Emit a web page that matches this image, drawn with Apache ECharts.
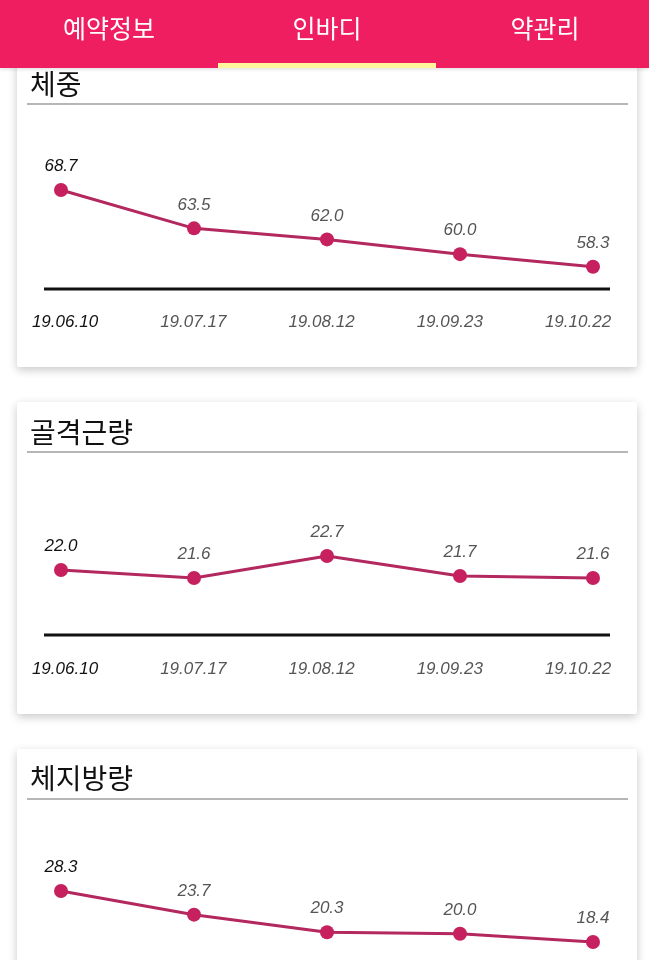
<!DOCTYPE html>
<html>
<head>
<meta charset="utf-8">
<script src="https://cdn.jsdelivr.net/npm/echarts@6/dist/echarts.min.js"></script>
<style>
html,body{margin:0;padding:0;background:#fff;}
#main{width:649px;height:960px;}
</style>
</head>
<body>
<div id="main"></div>
<script>
// ---- data ----
const categories = ['19.06.10', '19.07.17', '19.08.12', '19.09.23', '19.10.22'];
const weight = [68.7, 63.5, 62.0, 60.0, 58.3];
const muscle = [22.0, 21.6, 22.7, 21.7, 21.6];
const fat = [28.3, 23.7, 20.3, 20.0, 18.4];
const tabs = ['예약정보', '인바디', '약관리'];
const titles = ['체중', '골격근량', '체지방량'];

// ---- styles / layout ----
const KR = '"Noto Sans CJK KR", "Noto Sans", sans-serif';
const NUM = '"Liberation Sans", Arial, sans-serif';
const pink = '#ef1e61';
const lineColor = '#b3285e';
const dotColor = '#c6205f';

const cards = [
  {y: 10, h: 357, titleY: 84, sepY: 104, baseY: 289},
  {y: 402, h: 312, titleY: 432, sepY: 452, baseY: 635},
  {y: 749, h: 320, titleY: 778, sepY: 799, baseY: 982}
];
const chartGrids = [
  {left: 61, right: 56, top: 151, height: 140},
  {left: 61, right: 56, top: 530, height: 100},
  {left: 61, right: 56, top: 877, height: 98}
];
// label rows sit on a slightly narrower band than the points
const labelGrids = chartGrids.map(g => ({left: 65, right: 71, top: g.top, height: g.height}));
const yRanges = [[55, 74], [19, 24], [12, 31]];
const labelMargins = [23, 31, 31];
const seriesData = [weight, muscle, fat];

const chart = echarts.init(document.getElementById('main'), null, {renderer: 'canvas'});

const graphics = [];
cards.forEach((c, i) => {
  graphics.push({type: 'rect', z: 0, shape: {x: 17, y: c.y, width: 620, height: c.h, r: 2},
    style: {fill: '#fff', shadowBlur: 10, shadowOffsetY: 3, shadowColor: 'rgba(0,0,0,0.22)'}});
  graphics.push({type: 'text', z: 1, x: 30, y: c.titleY,
    style: {text: titles[i], font: '400 28px ' + KR, fill: '#111', textVerticalAlign: 'middle'}});
  graphics.push({type: 'line', z: 1, shape: {x1: 27, y1: c.sepY, x2: 628, y2: c.sepY},
    style: {stroke: '#9e9e9e', lineWidth: 1.5}});
  graphics.push({type: 'line', z: 1, shape: {x1: 44, y1: c.baseY, x2: 610, y2: c.baseY},
    style: {stroke: '#111', lineWidth: 3}});
});
// header
graphics.push({type: 'rect', z: 10, shape: {x: 0, y: 0, width: 649, height: 68},
  style: {fill: pink, shadowBlur: 4, shadowOffsetY: 1, shadowColor: 'rgba(0,0,0,0.15)'}});
const tabX = [109, 327, 545];
tabs.forEach((t, i) => {
  graphics.push({type: 'text', z: 11, x: tabX[i], y: 28,
    style: {text: t, font: '400 25px ' + KR, fill: '#fff', textAlign: 'center', textVerticalAlign: 'middle'}});
});
graphics.push({type: 'rect', z: 11, shape: {x: 218, y: 63, width: 218, height: 5},
  style: {fill: '#fff59d'}});

const allGrids = chartGrids.concat(labelGrids).map(g => Object.assign({outerBoundsMode: 'none', containLabel: false}, g));

const option = {
  animation: false,
  backgroundColor: '#fff',
  graphic: {elements: graphics},
  grid: allGrids,
  xAxis: chartGrids.map((g, i) => ({
    type: 'category', gridIndex: i, data: categories, boundaryGap: false,
    axisLine: {show: false}, axisTick: {show: false}, splitLine: {show: false},
    axisLabel: {show: false}
  })).concat(labelGrids.map((g, i) => ({
    type: 'category', gridIndex: i + 3, data: categories, boundaryGap: false,
    axisLine: {show: false}, axisTick: {show: false}, splitLine: {show: false},
    axisLabel: {
      show: i < 2,
      margin: labelMargins[i], fontSize: 17, fontStyle: 'italic', fontFamily: NUM,
      color: (v, idx) => idx === 0 ? '#111' : '#555', interval: 0
    }
  }))),
  yAxis: chartGrids.map((g, i) => ({
    type: 'value', gridIndex: i, min: yRanges[i][0], max: yRanges[i][1], show: false,
    splitLine: {show: false}
  })).concat(labelGrids.map((g, i) => ({
    type: 'value', gridIndex: i + 3, show: false, splitLine: {show: false}
  }))),
  series: seriesData.map((arr, i) => ({
    type: 'line', xAxisIndex: i, yAxisIndex: i,
    data: arr.map((v, j) => ({value: v, label: {color: j === 0 ? '#111' : '#555'}})),
    symbol: 'circle', symbolSize: 14, z: 5,
    lineStyle: {color: lineColor, width: 3},
    itemStyle: {color: dotColor},
    label: {
      show: true, position: 'top', distance: 8, fontSize: 17, fontStyle: 'italic',
      fontFamily: NUM, formatter: p => Number(p.value).toFixed(1)
    }
  }))
};
chart.setOption(option);
</script>
</body>
</html>
